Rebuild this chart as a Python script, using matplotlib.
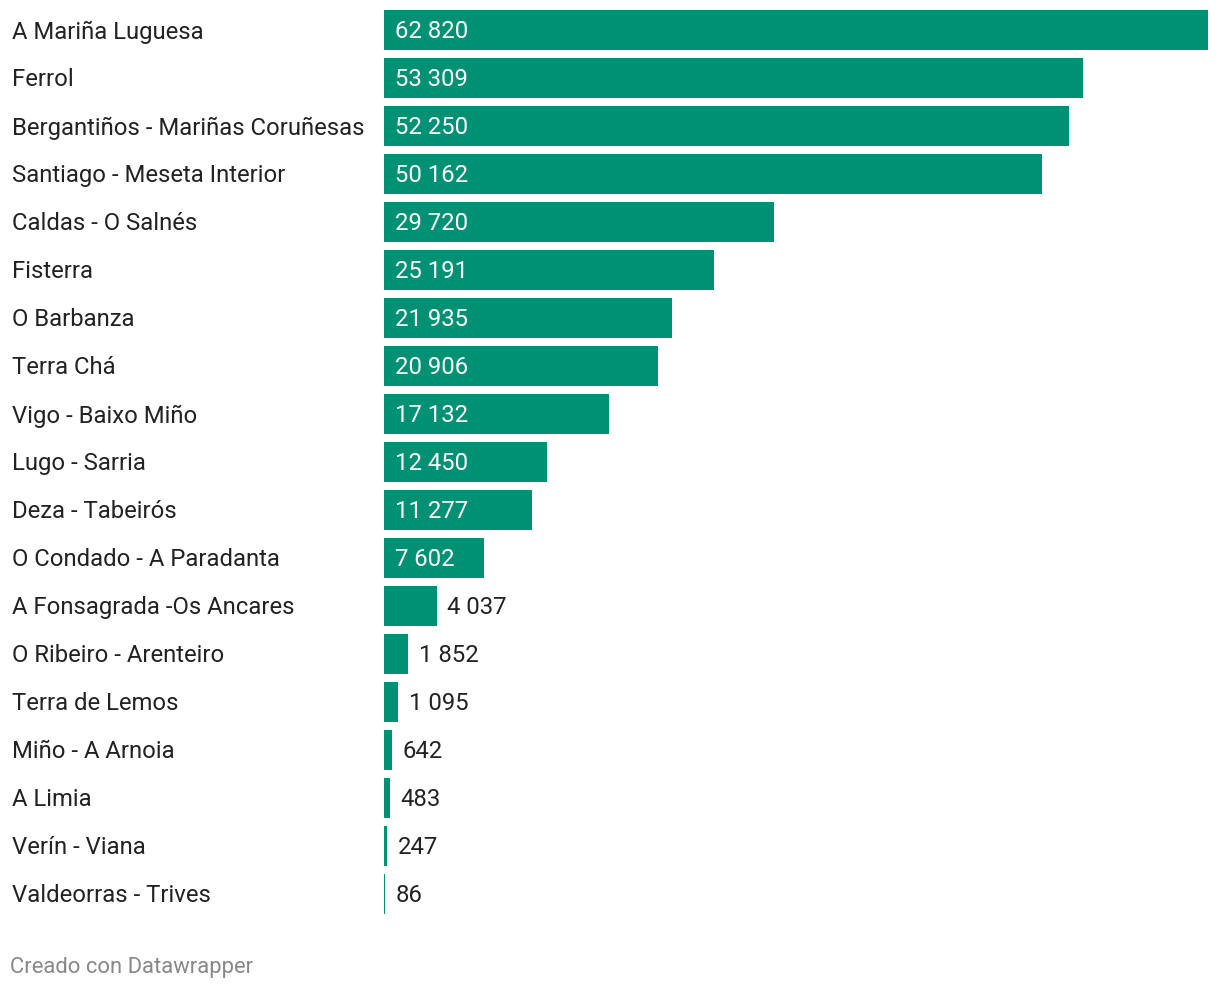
import matplotlib
matplotlib.use('Agg')
import matplotlib.pyplot as plt

plt.rcParams['font.family'] = ['Roboto', 'DejaVu Sans']

# data
regions = ['A Mariña Luguesa', 'Ferrol', 'Bergantiños - Mariñas Coruñesas',
           'Santiago - Meseta Interior', 'Caldas - O Salnés', 'Fisterra',
           'O Barbanza', 'Terra Chá', 'Vigo - Baixo Miño', 'Lugo - Sarria',
           'Deza - Tabeirós', 'O Condado - A Paradanta', 'A Fonsagrada -Os Ancares',
           'O Ribeiro - Arenteiro', 'Terra de Lemos', 'Miño - A Arnoia',
           'A Limia', 'Verín - Viana', 'Valdeorras - Trives']
values = [62820, 53309, 52250, 50162, 29720, 25191, 21935, 20906, 17132,
          12450, 11277, 7602, 4037, 1852, 1095, 642, 483, 247, 86]

W, H = 1220, 990
fig = plt.figure(figsize=(W / 100, H / 100), dpi=100)
ax = fig.add_axes([384 / W, 1 - 918 / H, 824 / W, 912 / H])

color = '#009175'
pos = list(range(len(values)))
ax.barh(pos, values, height=40 / 48, color=color)
ax.set_xlim(0, max(values))
ax.set_ylim(len(values) - 0.5, -0.5)
ax.axis('off')

# px -> data units on x
px = max(values) / 824
fs = 17.2
dy = 0.04  # nudge text down a hair

for i, (name, v) in enumerate(zip(regions, values)):
    txt = f'{v:,}'.replace(',', ' ')
    ax.annotate(name, xy=(0, i + dy), xycoords=('figure fraction', 'data'),
                xytext=(12, 0), textcoords='offset pixels',
                ha='left', va='center', fontsize=fs, color='#222222')
    if v / px > 90:
        ax.text(11 * px, i + dy, txt, ha='left', va='center',
                fontsize=fs, color='white')
    else:
        ax.text(v + 10.5 * px, i + dy, txt, ha='left', va='center',
                fontsize=fs, color='#222222')

fig.text(10 / W, 1 - 968 / H, 'Creado con Datawrapper', ha='left', va='center',
         fontsize=15.8, color='#888888')

fig.savefig('out.png', dpi=100)
